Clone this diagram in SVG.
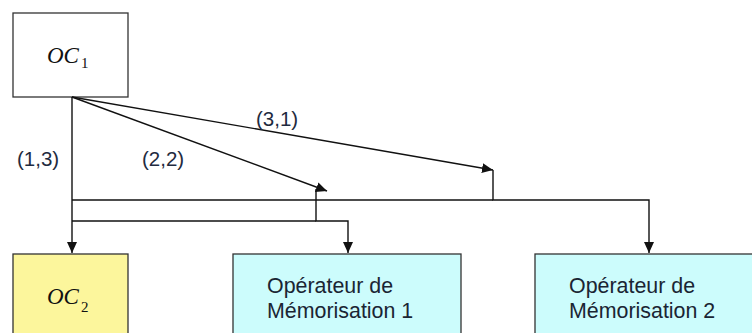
<svg xmlns="http://www.w3.org/2000/svg" width="752" height="333" viewBox="0 0 752 333">
<style>
.box{stroke:#333;stroke-width:1.3}
.ln{fill:none;stroke:#111;stroke-width:1.4}
.oc{font-family:"Liberation Serif","Times New Roman",serif;fill:#111}
.lbl{font-family:"Liberation Sans",Arial,sans-serif;font-size:20.5px;fill:#1f2b40}
.mem{font-family:"Liberation Sans",Arial,sans-serif;font-size:21.4px;fill:#1a2533}
</style>
<defs>
<marker id="ah" markerUnits="userSpaceOnUse" markerWidth="12" markerHeight="12" viewBox="0 0 12 12" refX="11" refY="6" orient="auto">
<path d="M0,1 L11,6 L0,11 Z" fill="#111"/>
</marker>
</defs>
<rect width="752" height="333" fill="#fff"/>
<g id="oc1">
<rect class="box" x="13" y="13" width="115" height="84" fill="#fff"/>
<text class="oc" x="47" y="63" font-size="23" font-style="italic">OC</text>
<text class="oc" x="81" y="68" font-size="15">1</text>
</g>
<g id="oc2">
<rect class="box" x="13" y="254" width="115" height="100" fill="#fcf69c"/>
<text class="oc" x="47" y="304" font-size="23" font-style="italic">OC</text>
<text class="oc" x="81" y="312" font-size="15">2</text>
</g>
<g id="mem1">
<rect class="box" x="233" y="254" width="228" height="100" fill="#ccfcfc"/>
<text class="mem" x="267" y="293">Opérateur de</text>
<text class="mem" x="267" y="318">Mémorisation 1</text>
</g>
<g id="mem2">
<rect class="box" x="535" y="254" width="240" height="100" fill="#ccfcfc"/>
<text class="mem" x="569" y="293">Opérateur de</text>
<text class="mem" x="569" y="318">Mémorisation 2</text>
</g>
<g id="connectors">
<line class="ln" x1="72" y1="97" x2="72" y2="200"/>
<line class="ln" x1="72" y1="200" x2="72" y2="253" stroke-width="2.2" marker-end="url(#ah)"/>
<line class="ln" x1="72" y1="97" x2="327" y2="191" marker-end="url(#ah)"/>
<line class="ln" x1="72" y1="97" x2="493" y2="170" marker-end="url(#ah)"/>
<polyline class="ln" points="493,170 493,200 649,200 649,253" marker-end="url(#ah)"/>
<line class="ln" x1="72" y1="200" x2="493" y2="200"/>
<polyline class="ln" points="316,189 316,221 348,221 348,253" marker-end="url(#ah)"/>
<line class="ln" x1="72" y1="221" x2="316" y2="221"/>
</g>
<g id="labels">
<text class="lbl" x="17" y="166">(1,3)</text>
<text class="lbl" x="142" y="166">(2,2)</text>
<text class="lbl" x="256" y="126">(3,1)</text>
</g>
</svg>
